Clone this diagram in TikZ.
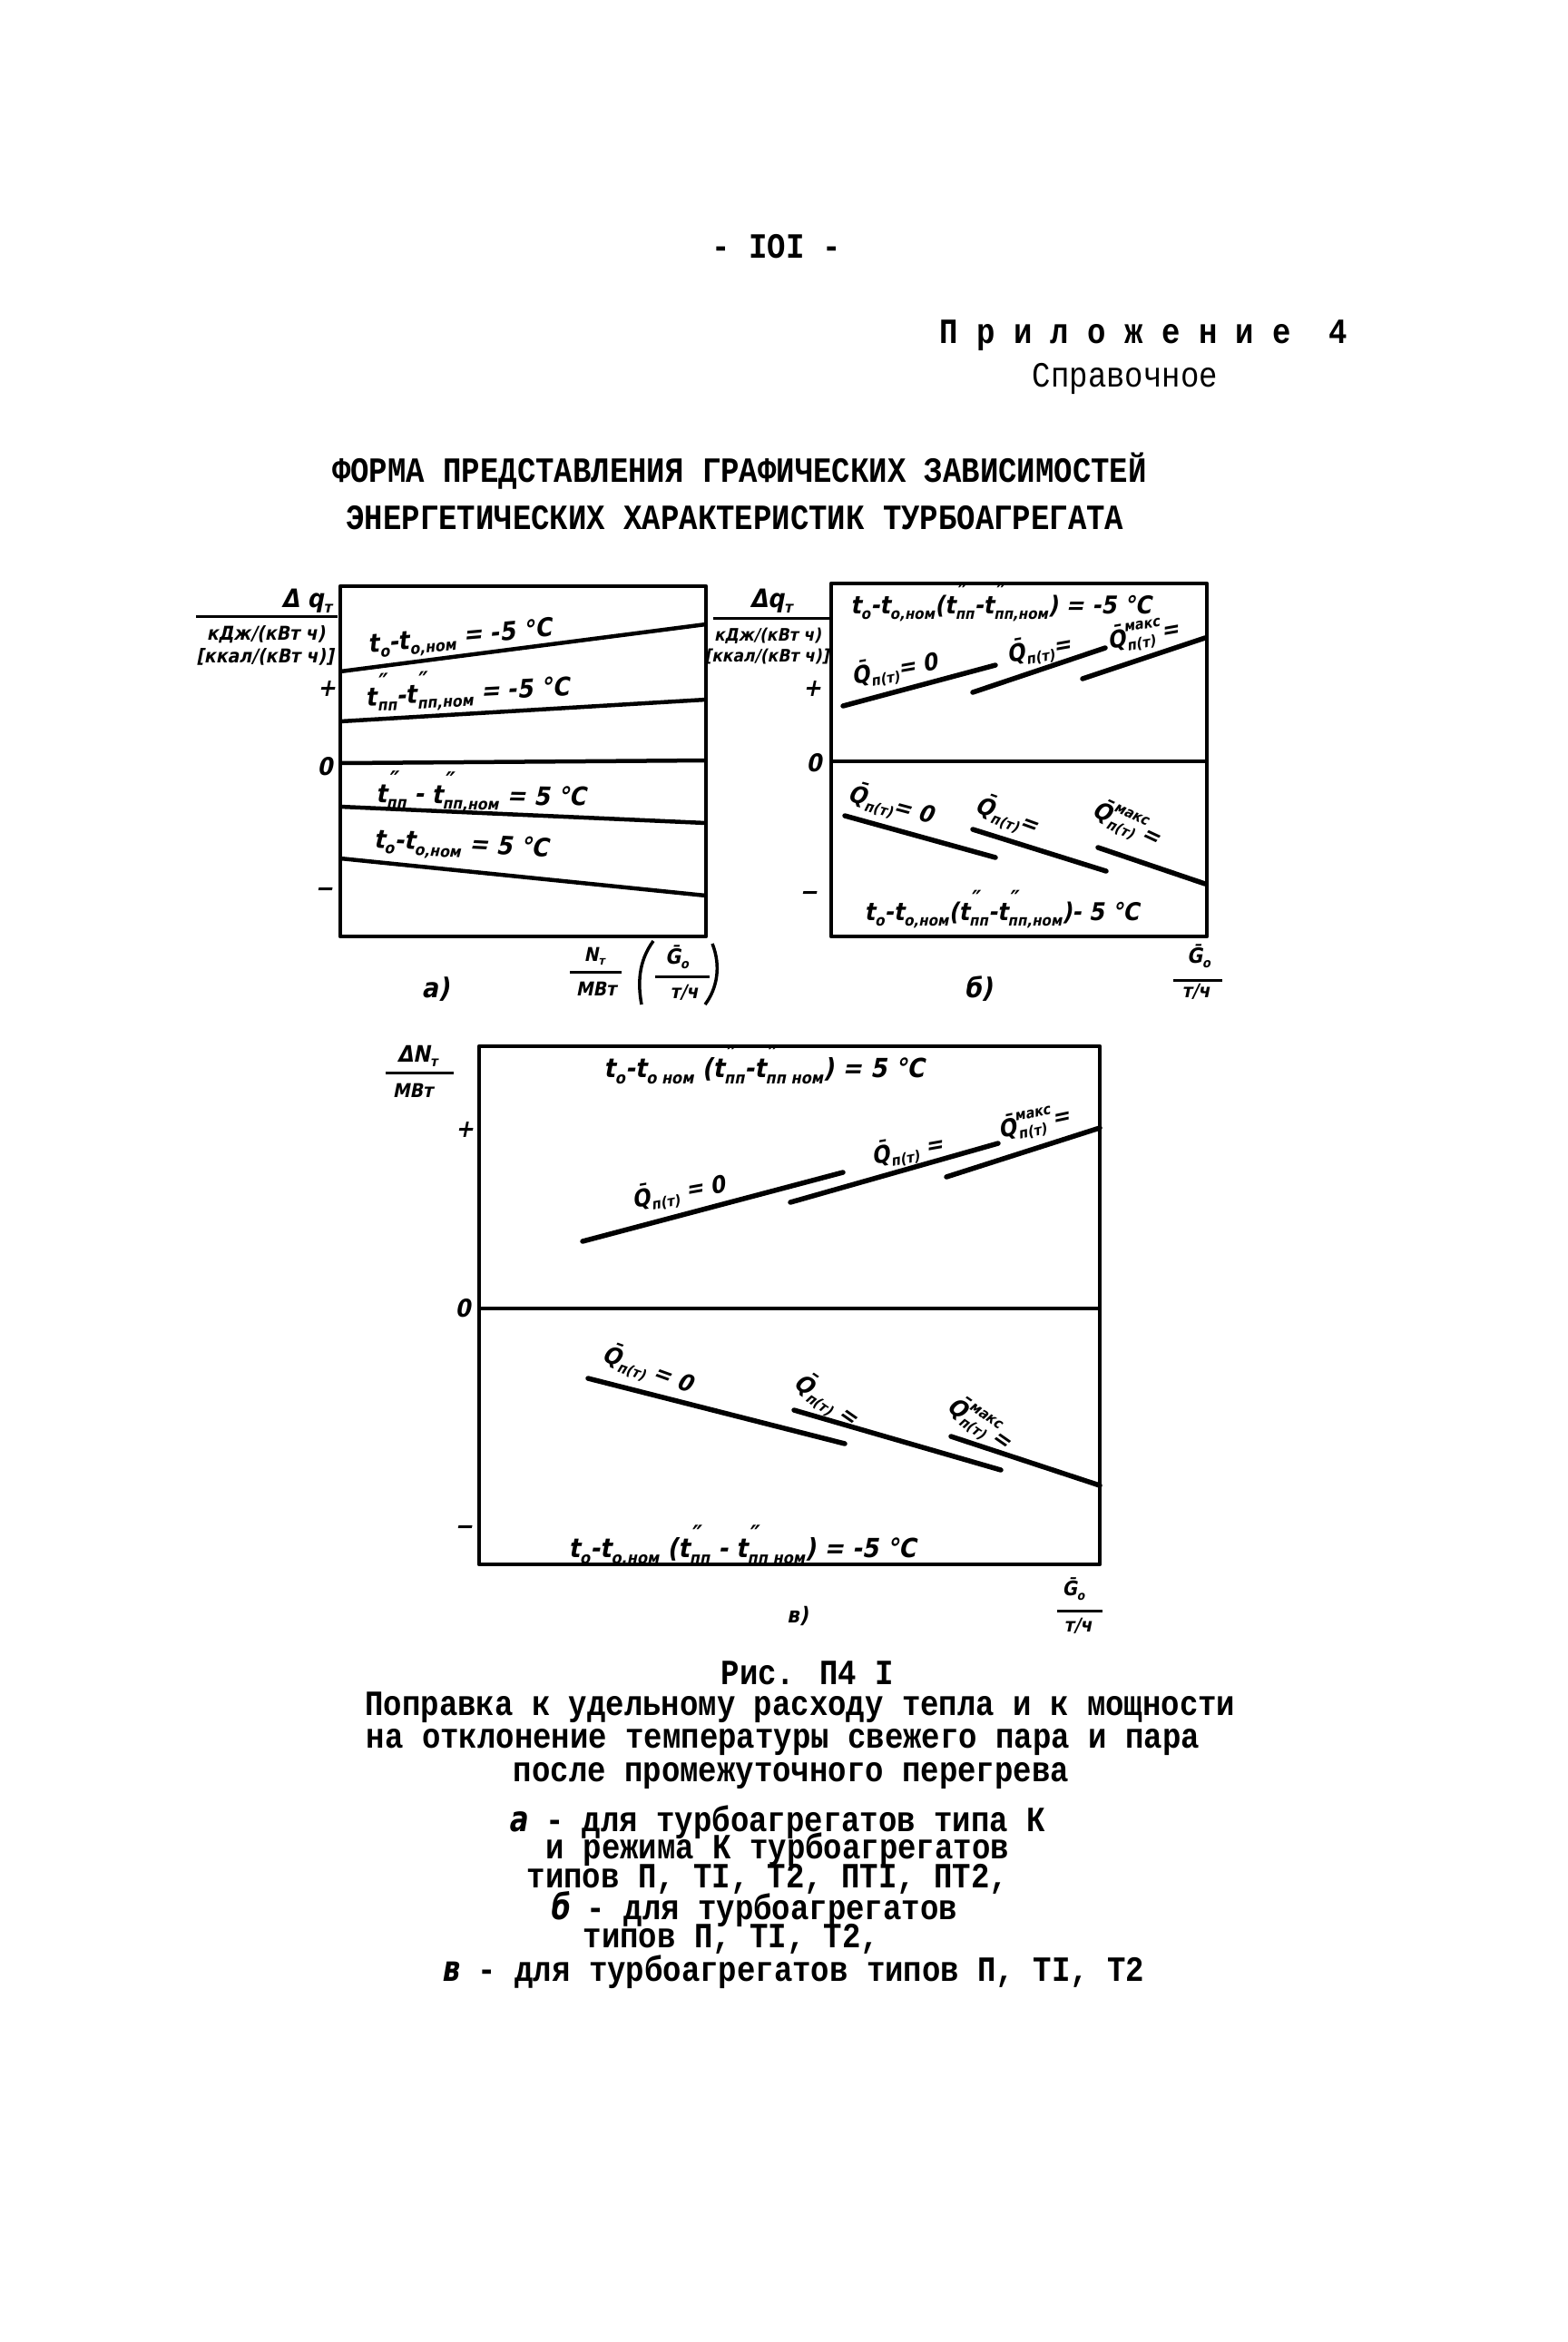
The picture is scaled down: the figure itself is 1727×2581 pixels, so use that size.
\documentclass[tikz,border=0pt]{standalone}
\usepackage{fontspec}
\usepackage{graphicx}
\setmainfont{Liberation Mono}
\newfontfamily\tw{Liberation Mono}
\newfontfamily\hw{DejaVu Sans Condensed}[FakeSlant=0.2]
\newcommand\dn[1]{\raisebox{-0.4ex}{\scalebox{0.62}{#1}}}
\newcommand\up[1]{\raisebox{1.05ex}{\scalebox{0.62}{#1}}}
\newcommand\ud[2]{\setbox0\hbox{\up{#1}}\setbox2\hbox{\dn{#2}}%
  \dimen0=\wd0 \ifdim\wd2>\dimen0 \dimen0=\wd2\fi
  \hbox to \dimen0{\rlap{\box0}\box2\hfil}}
\newcommand\dq{\scalebox{1.5}{″}}
\newcommand\Qb{\={Q}}
\newcommand\tall[1]{\scalebox{1}[1.15]{#1}}
\begin{document}
\begin{tikzpicture}[x=1pt,y=-1pt,
 boxline/.style={line width=4.5pt,line join=round},
 seg/.style={line width=5.5pt,line cap=round},
 fracline/.style={line width=3pt},
 hand/.style={font=\hw\bfseries\fontsize{28}{30}\selectfont,inner sep=0pt},
 qlab/.style={font=\hw\bfseries\fontsize{26}{28}\selectfont,inner sep=0pt},
 unit/.style={font=\hw\bfseries\fontsize{21}{22}\selectfont,inner sep=0pt},
 sign/.style={font=\hw\bfseries\fontsize{27}{27}\selectfont,inner sep=0pt},
 capt/.style={font=\tw\bfseries\fontsize{34}{36}\selectfont,inner sep=0pt}]
\fill[white] (0,0) rectangle (1727,2581);
\useasboundingbox (0,0) rectangle (1727,2581);

% ---------- header ----------
\node[capt] (pg) at (856,272) {\tall{- IOI -}};
\node[capt] (app) at (1260,370) {\tall{П р и л о ж е н и е\ \ 4}};
\node[capt,font=\tw\fontsize{34}{36}\selectfont] (ref) at (1240,417) {\tall{Справочное}};
\node[capt] (t1) at (815,519) {\tall{ФОРМА ПРЕДСТАВЛЕНИЯ ГРАФИЧЕСКИХ ЗАВИСИМОСТЕЙ}};
\node[capt] (t2) at (810,571) {\tall{ЭНЕРГЕТИЧЕСКИХ ХАРАКТЕРИСТИК ТУРБОАГРЕГАТА}};

% ---------- chart a ----------
\coordinate (a-nw) at (375,646); \coordinate (a-se) at (778,1032);
\draw[boxline] (a-nw) rectangle (a-se);
\draw[boxline] (375,740) -- (778,688);
\draw[boxline] (375,795) -- (778,771);
\draw[boxline] (375,841) -- (778,838);
\draw[boxline] (375,889) -- (778,907);
\draw[boxline] (375,946) -- (778,987);
\node[hand,rotate=5] (a1) at (507,704) {t\dn{о}-t\dn{о,ном} = -5 °C};
\node[hand,rotate=3] (a2) at (515,759) {t\ud{\dq}{пп}-t\ud{\dq}{пп,ном} = -5 °C};
\node[hand,rotate=-1] (a3) at (530,873) {t\ud{\dq}{пп} - t\ud{\dq}{пп,ном} = 5 °C};
\node[hand,rotate=-3] (a4) at (508,933) {t\dn{о}-t\dn{о,ном} = 5 °C};
\node[hand] (aq) at (338,662) {Δ q\dn{т}};
\draw[fracline] (216,679) -- (372,679);
\node[unit] (au1) at (293,699) {кДж/(кВт ч)};
\node[unit] (au2) at (292,724) {[ккал/(кВт ч)]};
\node[sign] (ap) at (360,759) {+};
\node[sign] (a0) at (358,845) {0};
\node[sign] (am) at (357,983) {−};
\node[hand,font=\hw\bfseries\fontsize{30}{30}\selectfont] (al) at (480,1090) {а)};
\node[unit] (an) at (655,1054) {N\dn{т}};
\draw[fracline] (628,1071) -- (685,1071);
\node[unit] (amw) at (657,1090) {МВт};
\draw[line width=3.5pt] (720,1037) .. controls (703,1060) and (703,1085) .. (707,1107);
\draw[line width=3.5pt] (785,1040) .. controls (795,1065) and (790,1090) .. (777,1107);
\node[unit,font=\hw\bfseries\fontsize{23}{24}\selectfont] (ag) at (746,1055) {\={G}\dn{о}};
\draw[fracline] (722,1076) -- (782,1076);
\node[unit] (ath) at (754,1094) {т/ч};

% ---------- chart b ----------
\coordinate (b-nw) at (916,643); \coordinate (b-se) at (1330,1032);
\draw[boxline] (b-nw) rectangle (b-se);
\draw[boxline] (916,839) -- (1330,839);
\draw[seg] (929,778) -- (1097,733);
\draw[seg] (1072,763) -- (1218,714);
\draw[seg] (1193,748) -- (1328,703);
\draw[seg] (931,899) -- (1097,945);
\draw[seg] (1072,914) -- (1219,960);
\draw[seg] (1210,934) -- (1328,974);
\node[hand,font=\hw\bfseries\fontsize{27}{28}\selectfont] (b1) at (1103,664) {t\dn{о}-t\dn{о,ном}(t\ud{\dq}{пп}-t\ud{\dq}{пп,ном}) = -5 °C};
\node[hand,font=\hw\bfseries\fontsize{27}{28}\selectfont] (b2) at (1104,1002) {t\dn{о}-t\dn{о,ном}(t\ud{\dq}{пп}-t\ud{\dq}{пп,ном})- 5 °C};
\node[qlab,rotate=10] (bq1) at (986,738) {\Qb\dn{п(т)}= 0};
\node[qlab,rotate=10] (bq2) at (1145,716) {\Qb\dn{п(т)}=};
\node[qlab,rotate=10] (bq3) at (1260,700) {\Qb\ud{макс}{п(т)}=};
\node[qlab,rotate=-15] (bq4) at (982,887) {\Qb\dn{п(т)}= 0};
\node[qlab,rotate=-20] (bq5) at (1110,899) {\Qb\dn{п(т)}=};
\node[qlab,rotate=-25] (bq6) at (1242,908) {\Qb\ud{макс}{п(т)}=};
\node[hand] (bq) at (850,662) {Δq\dn{т}};
\draw[fracline] (786,681) -- (914,681);
\node[unit,font=\hw\bfseries\fontsize{19}{20}\selectfont] (bu1) at (846,701) {кДж/(кВт ч)};
\node[unit,font=\hw\bfseries\fontsize{19}{20}\selectfont] (bu2) at (845,724) {[ккал/(кВт ч)]};
\node[sign] (bp) at (895,759) {+};
\node[sign] (b0) at (897,841) {0};
\node[sign] (bm) at (891,987) {−};
\node[hand,font=\hw\bfseries\fontsize{30}{30}\selectfont] (bl) at (1078,1090) {б)};
\node[unit,font=\hw\bfseries\fontsize{23}{24}\selectfont] (bg) at (1321,1054) {\={G}\dn{о}};
\draw[fracline] (1293,1080) -- (1347,1080);
\node[unit] (bth) at (1318,1093) {т/ч};

% ---------- chart c ----------
\coordinate (c-nw) at (528,1153); \coordinate (c-se) at (1212,1724);
\draw[boxline] (c-nw) rectangle (c-se);
\draw[boxline] (528,1442) -- (1212,1442);
\draw[seg] (642,1368) -- (929,1292);
\draw[seg] (871,1325) -- (1100,1260);
\draw[seg] (1043,1297) -- (1212,1243);
\draw[seg] (648,1519) -- (931,1591);
\draw[seg] (875,1554) -- (1103,1620);
\draw[seg] (1048,1583) -- (1212,1637);
\node[hand,font=\hw\bfseries\fontsize{29}{30}\selectfont] (c1) at (842,1173) {t\dn{о}-t\dn{о ном} (t\ud{\dq}{пп}-t\ud{\dq}{пп ном}) = 5 °C};
\node[hand,font=\hw\bfseries\fontsize{29}{30}\selectfont] (c2) at (818,1703) {t\dn{о}-t\dn{о,ном} (t\ud{\dq}{пп} - t\ud{\dq}{пп ном}) = -5 °C};
\node[qlab,rotate=10] (cq1) at (748,1314) {\Qb\dn{п(т)} = 0};
\node[qlab,rotate=10] (cq2) at (1000,1268) {\Qb\dn{п(т)} =};
\node[qlab,rotate=12] (cq3) at (1140,1238) {\Qb\ud{макс}{п(т)}=};
\node[qlab,rotate=-20] (cq4) at (714,1509) {\Qb\dn{п(т)} = 0};
\node[qlab,rotate=-35] (cq5) at (911,1543) {\Qb\dn{п(т)} =};
\node[qlab,rotate=-35] (cq6) at (1080,1569) {\Qb\ud{макс}{п(т)}=};
\node[hand,font=\hw\bfseries\fontsize{25}{26}\selectfont] (cn) at (460,1164) {ΔN\dn{т}};
\draw[fracline] (425,1182) -- (500,1182);
\node[unit] (cmw) at (455,1202) {МВт};
\node[sign] (cp) at (512,1245) {+};
\node[sign] (c0) at (510,1442) {0};
\node[sign] (cm) at (511,1686) {−};
\node[hand,font=\hw\bfseries\fontsize{24}{24}\selectfont] (cl) at (879,1781) {в)};
\node[unit,font=\hw\bfseries\fontsize{22}{24}\selectfont] (cg) at (1183,1751) {\={G}\dn{о}};
\draw[fracline] (1165,1775) -- (1215,1775);
\node[unit] (cth) at (1188,1792) {т/ч};

% ---------- caption ----------
\node[capt] (k1) at (890,1844) {\tall{Рис. П4 I}};
\node[capt] (k2) at (882,1882) {\tall{Поправка к удельному расходу тепла и к мощности}};
\node[capt] (k3) at (863,1920) {\tall{на отклонение температуры свежего пара и пара}};
\node[capt] (k4) at (872,1957) {\tall{после промежуточного перегрева}};
\node[capt] (k5) at (856,2008) {\tall{{\hw\bfseries а} - для турбоагрегатов типа К}};
\node[capt] (k6) at (857,2038) {\tall{и режима К турбоагрегатов}};
\node[capt] (k7) at (846,2071) {\tall{типов П, ТI, Т2, ПТI, ПТ2,}};
\node[capt] (k8) at (830,2104) {\tall{{\hw\bfseries б} - для турбоагрегатов}};
\node[capt] (k9) at (806,2137) {\tall{типов П, ТI, Т2,}};
\node[capt] (k10) at (874,2173) {\tall{{\hw\bfseries в} - для турбоагрегатов типов П, ТI, Т2}};
\end{tikzpicture}
\end{document}
